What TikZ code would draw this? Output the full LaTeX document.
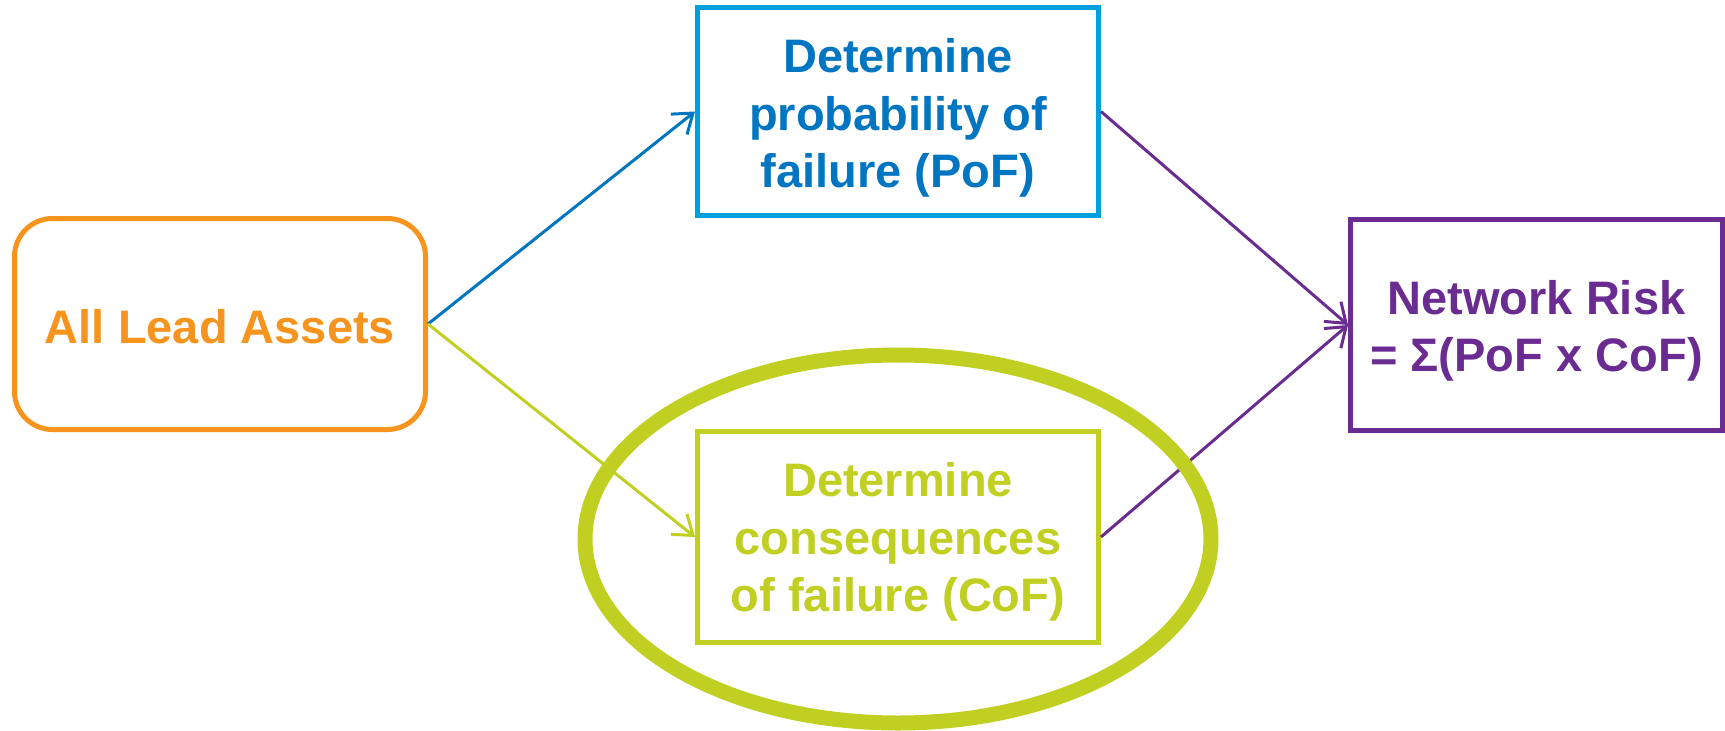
\documentclass[tikz,border=0pt]{standalone}
\usepackage{fontspec}
\setmainfont{Liberation Sans}
\usetikzlibrary{arrows.meta,shapes.geometric}
\definecolor{cOrange}{HTML}{F7941D}
\definecolor{cBlueBox}{HTML}{00A0DF}
\definecolor{cBlue}{HTML}{0075C2}
\definecolor{cGreen}{HTML}{C1CF23}
\definecolor{cPurple}{HTML}{6A2C91}
\tikzset{
  boxbase/.style={draw, line width=5pt, rectangle, inner sep=0pt},
  boxtext/.style={font=\bfseries\fontsize{47}{57.5}\selectfont, align=center, inner sep=0pt},
  conn/.style={line width=3pt},
  arr/.style={conn, -{Straight Barb[length=18pt,width=26pt,line width=3pt]}},
}
\begin{document}
\begin{tikzpicture}[x=1pt,y=-1pt]
\useasboundingbox (0,0) rectangle (1725,731);
% boxes
\node[boxbase, draw=cOrange, rounded corners=38pt, minimum width=411pt, minimum height=211pt] (assets) at (220,324) {};
\node[boxbase, draw=cBlueBox, minimum width=401pt, minimum height=208pt] (pof) at (898,111.5) {};
\node[boxbase, draw=cGreen, minimum width=401pt, minimum height=211pt] (cof) at (898,537) {};
\node[boxbase, draw=cPurple, minimum width=372pt, minimum height=211pt] (risk) at (1536.5,325) {};
% texts
\node[boxtext, text=cOrange, anchor=base] (assetsT) at (220,343) {All Lead Assets};
\node[boxtext, text=cBlue] (pofT) at (898,118) {Determine\\probability of\\failure (PoF)};
\node[boxtext, text=cGreen] (cofT) at (898,542) {Determine\\consequences\\of failure (CoF)};
\node[boxtext, text=cPurple] (riskT) at (1536.5,331) {Network Risk\\= Σ(PoF x CoF)};
% connectors
\draw[arr, draw=cBlue] (assets.east) -- (pof.west);
\draw[arr, draw=cGreen] (assets.east) -- (cof.west);
\draw[arr, draw=cPurple] (pof.east) -- (risk.west);
\draw[arr, draw=cPurple] (cof.east) -- (risk.west);
% highlight ellipse
\node[ellipse, draw=cGreen, line width=15pt, minimum width=626pt, minimum height=368pt, inner sep=0pt] (ring) at (898,539) {};
\end{tikzpicture}
\end{document}
